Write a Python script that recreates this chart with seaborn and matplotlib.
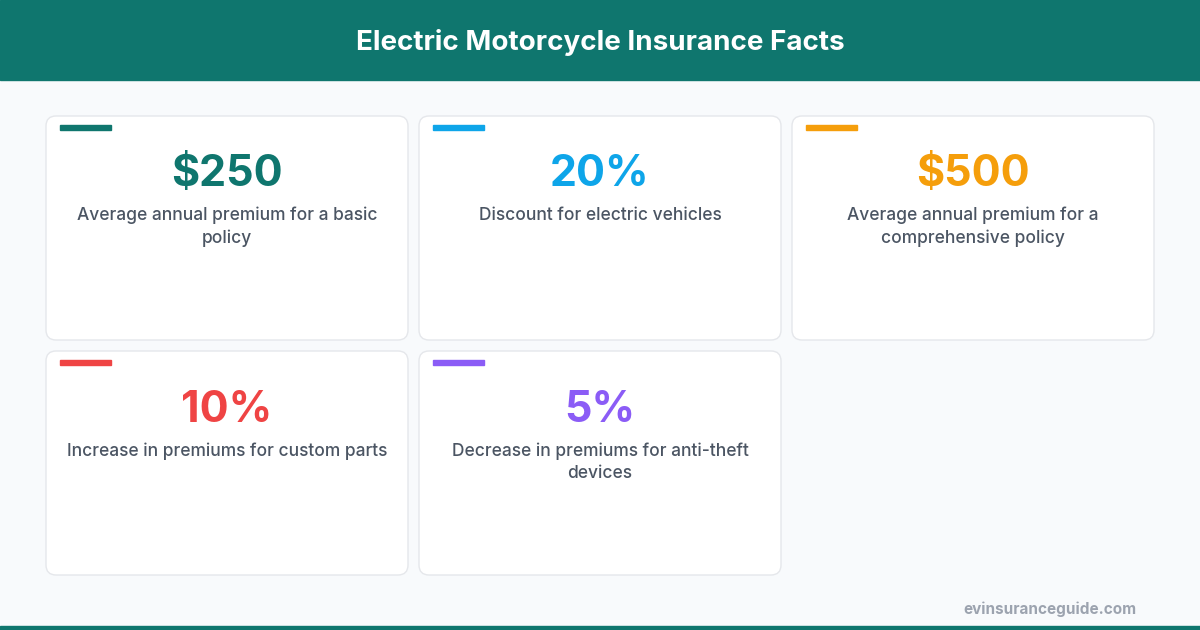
import matplotlib
matplotlib.use("Agg")
import matplotlib.pyplot as plt
import seaborn as sns
from matplotlib.patches import FancyBboxPatch, Rectangle

sns.set_theme(style="white")
plt.rcParams['font.family'] = ['Inter', 'DejaVu Sans']

title = "Electric Motorcycle Insurance Facts"
values = ["$250", "20%", "$500", "10%", "5%"]
descriptions = ["Average annual premium for a basic\npolicy",
                "Discount for electric vehicles",
                "Average annual premium for a\ncomprehensive policy",
                "Increase in premiums for custom parts",
                "Decrease in premiums for anti-theft\ndevices"]
colors = ["#0f766e", "#0ea5e9", "#f59e0b", "#ef4444", "#8b5cf6"]
source = "evinsuranceguide.com"

fig = plt.figure(figsize=(12, 6.3), dpi=100)
fig.patch.set_facecolor("#f8fafc")
ax = fig.add_axes([0, 0, 1, 1])
ax.set_xlim(0, 1200); ax.set_ylim(630, 0); ax.axis("off")

ax.add_patch(Rectangle((0, 0), 1200, 80, color="#0f766e"))
ax.add_patch(Rectangle((0, 626), 1200, 4, color="#0f766e"))
ax.text(600, 42, title, color="white", fontsize=20, fontweight="bold", ha="center", va="center")

cw, ch = 362, 224
for i, (v, d, c) in enumerate(zip(values, descriptions, colors)):
    col, row = i % 3, i // 3
    x0 = 46 + col * 373
    y0 = 116 + row * 235
    ax.add_patch(FancyBboxPatch((x0, y0), cw, ch, boxstyle="round,pad=0,rounding_size=10",
                                facecolor="white", edgecolor="#e5e7eb", linewidth=1))
    ax.add_patch(Rectangle((x0 + 14, y0 + 9), 51, 5, color=c))
    ax.text(x0 + cw / 2, y0 + 59, v, color=c, fontsize=31, fontweight="bold", ha="center", va="center")
    ax.text(x0 + cw / 2, y0 + 91, d, color="#4b5563", fontsize=12.5, fontweight="medium",
            ha="center", va="top", linespacing=1.4)

ax.text(1136, 609, source, color="#9ca3af", fontsize=11, fontweight="bold", ha="right", va="center")
fig.savefig("out.png", dpi=100, facecolor=fig.get_facecolor())
